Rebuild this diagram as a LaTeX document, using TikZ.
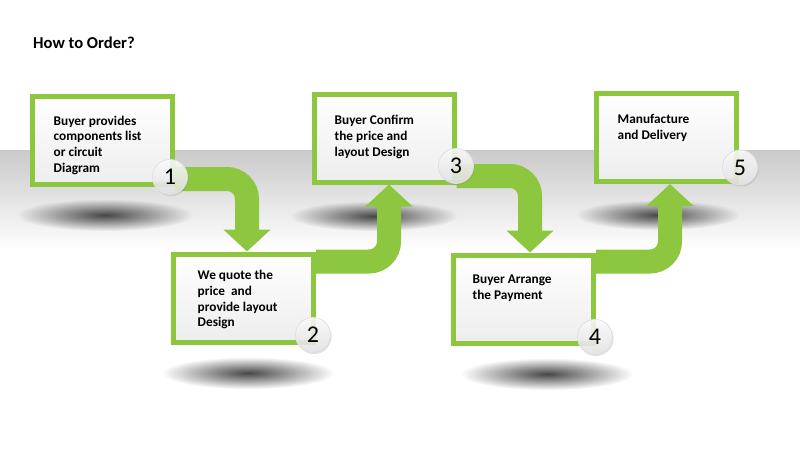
\documentclass[tikz,border=0pt]{standalone}
\usepackage{fontspec}
\setmainfont{Carlito}
\usetikzlibrary{arrows.meta,shadows,fadings}

\definecolor{leaf}{RGB}{141,198,63}
\tikzfading[name=blob fade, inner color=transparent!0, outer color=transparent!100]

\tikzset{
    stepbox/.style = {draw=leaf, line width=5pt, minimum width=140pt, minimum height=88pt,
                      inner sep=0pt, top color=white, bottom color=gray!14},
    steptext/.style = {anchor=north west, align=left, inner sep=0pt,
                       font=\bfseries\fontsize{13.3}{15.8}\selectfont},
    stepnum/.style = {circle, minimum size=35pt, inner sep=0pt, draw=gray!25, line width=0.8pt,
                      top color=white, bottom color=gray!20, fill opacity=0.85, text opacity=1,
                      font=\fontsize{24}{24}\selectfont,
                      drop shadow={opacity=0.25, shadow xshift=1pt, shadow yshift=-1.5pt}},
    flow/.style = {draw=leaf, line width=24pt, rounded corners=20pt,
                   -{Triangle[length=22pt 0 0, width=46pt 0 0]}},
    floorshadow/.style = {fill=black!72, path fading=blob fade}
}

\begin{document}
\begin{tikzpicture}[x=1pt, y=-1pt]
    \useasboundingbox (0,0) rectangle (800,452);
    \fill[white] (0,0) rectangle (800,452);

    % floor band and shadows
    \shade[top color=gray!42, bottom color=white] (0,150) rectangle (800,250);
    \fill[floorshadow] (105,215) ellipse (88pt and 16pt);
    \fill[floorshadow] (374,216) ellipse (84pt and 15pt);
    \fill[floorshadow] (658,215) ellipse (82pt and 15pt);
    \fill[floorshadow] (248,373) ellipse (86pt and 16pt);
    \fill[floorshadow] (547,374) ellipse (86pt and 16pt);

    \node [anchor=west, font=\bfseries\fontsize{16.6}{20}\selectfont, inner sep=0pt] (title) at (33,43) {How to Order?};

    % boxes
    \node [stepbox] (b1) at (102.5,140) {};
    \node [stepbox] (b2) at (243.5,298) {};
    \node [stepbox] (b3) at (384,138) {};
    \node [stepbox] (b4) at (523.5,299) {};
    \node [stepbox] (b5) at (666.5,137.5) {};

    % arrows between steps
    \draw [flow] ([yshift=7.5pt]b1.south east) -| ([xshift=3.5pt]b2.north);
    \draw [flow] ([yshift=-10pt]b2.north east) -| ([xshift=5pt]b3.south);
    \draw [flow] ([yshift=8.5pt]b3.south east) -| ([xshift=6.5pt]b4.north);
    \draw [flow] ([yshift=-9pt]b4.north east) -| ([xshift=3.5pt]b5.south);

    % texts
    \node [steptext] (t1) at ([xshift=23.5pt,yshift=-22pt]b1.north west) {Buyer provides\\components list\\or circuit\\Diagram};
    \node [steptext] (t2) at ([xshift=26.5pt,yshift=-18.5pt]b2.north west) {We quote the\\price~ and\\provide layout\\Design};
    \node [steptext] (t3) at ([xshift=23pt,yshift=-23.5pt]b3.north west) {Buyer Confirm\\the price and\\layout Design};
    \node [steptext] (t4) at ([xshift=21.5pt,yshift=-22.5pt]b4.north west) {Buyer Arrange\\the Payment};
    \node [steptext] (t5) at ([xshift=23.5pt,yshift=-23pt]b5.north west) {Manufacture\\and Delivery};

    % numbers
    \node [stepnum] (c1) at (170,177) {1};
    \node [stepnum] (c2) at (313,335) {2};
    \node [stepnum] (c3) at (456,166) {3};
    \node [stepnum] (c4) at (595,337) {4};
    \node [stepnum] (c5) at (740,167.5) {5};

\end{tikzpicture}
\end{document}
